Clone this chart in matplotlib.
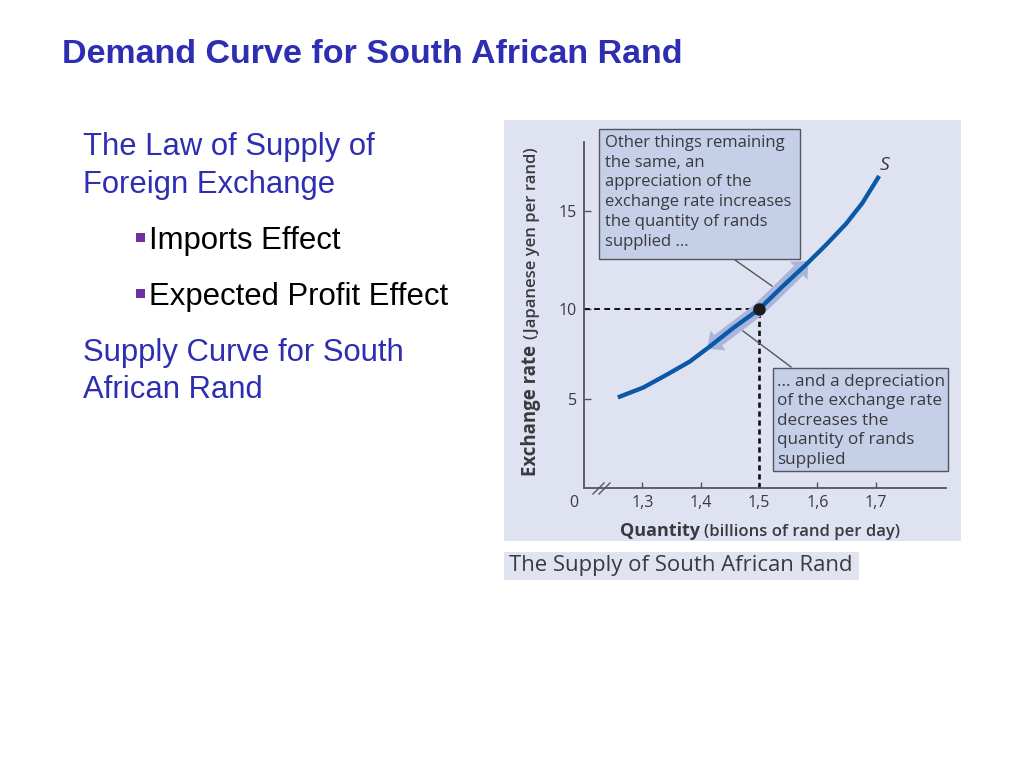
import numpy as np
import matplotlib
matplotlib.use('Agg')
import matplotlib.pyplot as plt
from matplotlib.patches import Rectangle
from matplotlib.transforms import Affine2D

quantity = [1.258, 1.301, 1.341, 1.381, 1.415, 1.455, 1.5, 1.54, 1.58, 1.615, 1.649, 1.677, 1.706]
rate = [5.09, 5.63, 6.34, 7.08, 7.91, 8.94, 10.0, 11.15, 12.25, 13.27, 14.33, 15.38, 16.76]
x_ticks = [1.3, 1.4, 1.5, 1.6, 1.7]
x_labels = ['1,3', '1,4', '1,5', '1,6', '1,7']
y_ticks = [5, 10, 15]
# the source y axis is not evenly spaced
y_values = [0, 5, 10, 15, 18.48]
y_heights = [0, 88.7, 178.4, 277, 345.7]

SLIDE_FONT = 'Liberation Sans'
CHART_FONT = 'Open Sans'
BLUE = '#2e2eb2'
INK = '#3a3a3e'

fig = plt.figure(figsize=(10.24, 7.68), dpi=100, facecolor='white')
# pixels measured from the top left, like the reference
px = Affine2D().scale(1, -1).translate(0, 768)


def rect(x0, y0, x1, y1, **kw):
    fig.add_artist(Rectangle((x0, y0), x1 - x0, y1 - y0, transform=px, **kw))


def txt(x, y, s, **kw):
    kw.setdefault('family', SLIDE_FONT)
    kw.setdefault('va', 'baseline')
    fig.text(x, y, s, transform=px, **kw)


def line(xs, ys, **kw):
    fig.add_artist(plt.Line2D(xs, ys, transform=px, **kw))


# panel behind the chart and caption
rect(504, 120, 961, 541, fc='#dfe3f1', ec='none', zorder=-5)
rect(504, 552, 859, 580, fc='#e0e4f0', ec='none', zorder=-5)

# slide text
txt(62, 63, 'Demand Curve for South African Rand', fontsize=24.5, fontweight='bold', color=BLUE)
txt(83, 155.5, 'The Law of Supply of', fontsize=22.3, color=BLUE)
txt(83, 192.5, 'Foreign Exchange', fontsize=22.3, color=BLUE)
txt(149, 249.5, 'Imports Effect', fontsize=22.4, color='black')
txt(149, 305.5, 'Expected Profit Effect', fontsize=22.4, color='black')
txt(83, 361.5, 'Supply Curve for South', fontsize=22.3, color=BLUE)
txt(83, 398.5, 'African Rand', fontsize=22.3, color=BLUE)
rect(136, 233, 145, 242, fc='#7030a0', ec='none')
rect(136, 289, 145, 298, fc='#7030a0', ec='none')

# chart
ax = fig.add_axes([584 / 1024, (768 - 487.7) / 768, (945.7 - 584) / 1024, (487.7 - 142) / 768])
ax.patch.set_visible(False)
ax.set_yscale('function', functions=(lambda v: np.interp(v, y_values, y_heights),
                                     lambda h: np.interp(h, y_heights, y_values)))
ax.set_xlim(1.2, 1.82)
ax.set_ylim(0, 18.48)
for side in ['top', 'right']:
    ax.spines[side].set_visible(False)
for side in ['left', 'bottom']:
    ax.spines[side].set_color('#55565c')
    ax.spines[side].set_linewidth(1.3)
ax.set_xticks(x_ticks)
ax.set_xticklabels(x_labels, family=CHART_FONT, fontsize=11.5, color=INK)
ax.set_yticks(y_ticks)
ax.set_yticklabels([str(v) for v in y_ticks], family=CHART_FONT, fontsize=11.5, color=INK)
ax.minorticks_off()
ax.tick_params(axis='x', direction='in', length=4.5, width=1, color='#55565c', pad=5.5)
ax.tick_params(axis='y', direction='in', length=5, width=1, color='#55565c', pad=5)

ax.plot([1.2, 1.5], [10, 10], color='#111111', lw=1.4, dashes=(3, 2.2), zorder=2)
ax.plot([1.5, 1.5], [0, 10], color='#111111', lw=1.9, dashes=(2, 1.4), zorder=2)

# pale arrows along the curve
arrow = dict(arrowstyle='simple,head_width=1.8,head_length=1.0,tail_width=0.95', mutation_scale=10,
             color='#a9b6dc', lw=0, shrinkA=0, shrinkB=0)
ax.annotate('', xy=(1.585, 12.45), xytext=(1.5, 10), arrowprops=arrow, zorder=3)
ax.annotate('', xy=(1.411, 7.8), xytext=(1.5, 10), arrowprops=arrow, zorder=3)

ax.plot(quantity, rate, color='#0a58a8', lw=3.1, solid_capstyle='butt', zorder=4)
ax.plot([1.5], [10], 'o', color='#1c1a1c', ms=8, zorder=5)

# leader lines
line([735, 772], [260, 286], color='#55565c', lw=1, zorder=1)
line([743, 791], [331, 367], color='#55565c', lw=1, zorder=1)

# callouts
rect(599, 129, 800, 259, fc='#c5cfe8', ec='#55565c', lw=1, zorder=6)
rect(773, 368, 948, 471, fc='#c5cfe8', ec='#55565c', lw=1, zorder=6)
box1 = ['Other things remaining', 'the same, an', 'appreciation of the',
        'exchange rate increases', 'the quantity of rands', 'supplied ...']
box2 = ['... and a depreciation', 'of the exchange rate', 'decreases the',
        'quantity of rands', 'supplied']
for i, s in enumerate(box1):
    txt(605, 147 + i * 19.7, s, family=CHART_FONT, fontsize=12.0, color=INK, zorder=7)
for i, s in enumerate(box2):
    txt(777, 386 + i * 19.4, s, family=CHART_FONT, fontsize=12.35, color=INK, zorder=7)

# axis break
for dx in [0, 6]:
    line([593 + dx, 604 + dx], [494, 483], color='#55565c', lw=1)

# axis labels and other chart text
txt(574, 507, '0', family=CHART_FONT, fontsize=11.5, color=INK, ha='center')
txt(885, 170, 'S', family=CHART_FONT, fontsize=14, style='italic', color=INK, ha='center')
txt(620, 536, 'Quantity', family=CHART_FONT, fontsize=13, fontweight='bold', color=INK)
txt(704, 536, '(billions of rand per day)', family=CHART_FONT, fontsize=12, fontweight='semibold', color=INK)
txt(536, 476, 'Exchange rate', family=CHART_FONT, fontsize=13.4, fontweight='bold', color=INK,
    rotation=90, rotation_mode='anchor')
txt(536, 339, '(Japanese yen per rand)', family=CHART_FONT, fontsize=12, fontweight='semibold', color=INK,
    rotation=90, rotation_mode='anchor')
txt(509, 571, 'The Supply of South African Rand', family=CHART_FONT, fontsize=15.9, color=INK)

fig.savefig('out.png', dpi=100)
